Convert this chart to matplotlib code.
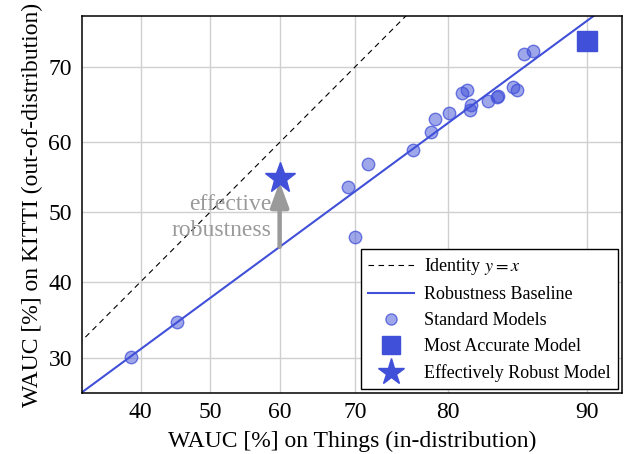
import numpy as np
import matplotlib
matplotlib.use("Agg")
import matplotlib.pyplot as plt
from matplotlib.lines import Line2D

plt.rcParams["font.family"] = ["Liberation Serif", "DejaVu Serif"]
plt.rcParams["mathtext.fontset"] = "stix"

# WAUC [%] of the standard models: Things (in-distribution) vs KITTI (out-of-distribution)
things_wauc = [38.7, 45.2, 69.9, 69.1, 71.5, 76.6, 78.4, 78.8, 80.1, 81.3,
               81.7, 82.1, 82.0, 83.5, 84.2, 84.3, 85.4, 85.7, 86.2, 86.8]
kitti_wauc = [30.1, 34.5, 46.4, 53.6, 57.0, 59.0, 61.4, 63.3, 64.0, 66.7,
              67.1, 65.1, 64.4, 65.6, 66.2, 66.3, 67.4, 67.1, 71.5, 71.9]

best_model = (90.0, 73.0)
robust_model = (60.0, 55.0)

# baseline fit in logit space: logit(y) = slope * logit(x) + intercept
baseline_slope = 0.734
baseline_intercept = -0.50

ticks_x = [40, 50, 60, 70, 80, 90]
ticks_y = [30, 40, 50, 60, 70]

blue = "#4150d8"
gray = "#9a9a9a"


def fwd(v):
    p = np.clip(np.asarray(v, dtype=float) / 100.0, 1e-6, 1 - 1e-6)
    return np.log(p / (1 - p))


def inv(z):
    return 100.0 / (1.0 + np.exp(-np.asarray(z, dtype=float)))


fig = plt.figure(figsize=(6.32, 4.54), dpi=100)
ax = fig.add_axes([0.1293, 0.135, 0.8547, 0.8287])
ax.set_xscale("function", functions=(fwd, inv))
ax.set_yscale("function", functions=(fwd, inv))

xs = inv(np.linspace(fwd(25), fwd(97), 300))

ax.plot(xs, xs, color="black", lw=0.8, ls=(0, (5, 4)), zorder=2)
base_y = inv(baseline_slope * fwd(xs) + baseline_intercept)
ax.plot(xs, base_y, color=blue, lw=1.5, zorder=2)

ax.scatter(things_wauc, kitti_wauc, s=80, facecolors=(0.255, 0.314, 0.847, 0.5),
           edgecolors=(0.255, 0.314, 0.847, 0.75), linewidths=1.0, zorder=3)
ax.plot(*best_model, marker="s", ms=14, color=blue, ls="none", zorder=4)

# effective robustness arrow from baseline up to the robust model
x0 = robust_model[0]
y_base = float(inv(baseline_slope * fwd(x0) + baseline_intercept))
ax.annotate("", xy=(x0, robust_model[1] - 0.6), xytext=(x0, y_base),
            arrowprops=dict(arrowstyle="-|>,head_width=0.55,head_length=1.5",
                            color=gray, lw=3.2, shrinkA=0, shrinkB=0), zorder=4)
ax.text(58.8, 49.2, "effective\nrobustness", color=gray, fontsize=17,
        ha="right", va="center", linespacing=1.3, zorder=4)
ax.plot(*robust_model, marker="*", ms=23, color=blue, ls="none", zorder=5)

ax.set_xlim(32.1, 91.7)
ax.set_ylim(25.9, 75.75)
ax.set_xticks(ticks_x)
ax.set_xticklabels([str(t) for t in ticks_x])
ax.set_yticks(ticks_y)
ax.set_yticklabels([str(t) for t in ticks_y])
ax.minorticks_off()
ax.tick_params(length=0, labelsize=17, pad=7)
ax.grid(True, color="#d0d0d0", lw=1.0)
ax.set_axisbelow(True)
for sp in ax.spines.values():
    sp.set_linewidth(1.1)

ax.set_xlabel("WAUC [%] on Things (in-distribution)", fontsize=17, labelpad=5)
ax.set_ylabel("WAUC [%] on KITTI (out-of-distribution)", fontsize=17, labelpad=4)

handles = [
    Line2D([], [], color="black", lw=0.8, ls=(0, (5, 4))),
    Line2D([], [], color=blue, lw=1.5),
    Line2D([], [], ls="none", marker="o", ms=8, markerfacecolor=(0.255, 0.314, 0.847, 0.5),
           markeredgecolor=(0.255, 0.314, 0.847, 0.75)),
    Line2D([], [], ls="none", marker="s", ms=13, color=blue),
    Line2D([], [], ls="none", marker="*", ms=20, color=blue),
]
labels = ["Identity $y=x$", "Robustness Baseline", "Standard Models",
          "Most Accurate Model", "Effectively Robust Model"]
leg = ax.legend(handles, labels, loc="lower right", fontsize=13, frameon=True,
                fancybox=False, edgecolor="black", framealpha=1, handlelength=2.5,
                borderaxespad=0.2, labelspacing=0.5, handletextpad=0.6,
                borderpad=0.4)
leg.get_frame().set_linewidth(1.0)

fig.savefig("out.png", dpi=100)
